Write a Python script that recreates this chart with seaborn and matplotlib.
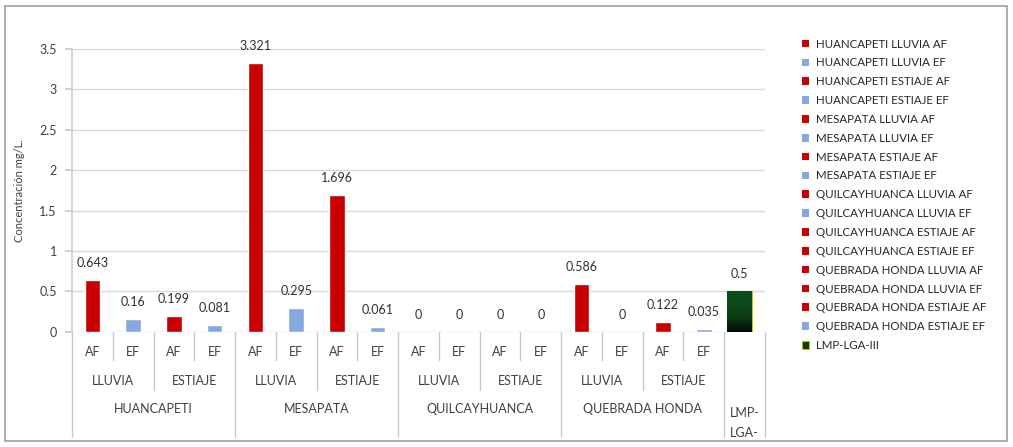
import numpy as np
import pandas as pd
import matplotlib
matplotlib.use("Agg")
import matplotlib.pyplot as plt
import matplotlib.transforms as mtransforms
from matplotlib.patches import Rectangle, Patch
import seaborn as sns

# ---------------- data ----------------
sites = ["HUANCAPETI", "MESAPATA", "QUILCAYHUANCA", "QUEBRADA HONDA"]
seasons = ["LLUVIA", "ESTIAJE"]
fractions = ["AF", "EF"]
values = [0.643, 0.16, 0.199, 0.081,
          3.321, 0.295, 1.696, 0.061,
          0, 0, 0, 0,
          0.586, 0, 0.122, 0.035]
lmp_label = "LMP-LGA-III"
lmp_short = ["LMP-", "LGA-"]
lmp_value = 0.5
yticks = [0, 0.5, 1, 1.5, 2, 2.5, 3, 3.5]
ylabel = "Concentración mg/L."

RED = "#c80000"
BLUE = "#86a8e0"
LMP_COLOR = "#0b3f18"
# legend colour of each series (as shown in the reference legend)
series_colors = [RED, BLUE, RED, BLUE,
                 RED, BLUE, RED, BLUE,
                 RED, BLUE, RED, RED,
                 RED, RED, RED, BLUE]

# ---------------- build table ----------------
series_names, slot_ids, site_col, season_col, frac_col = [], [], [], [], []
k = 0
for s in sites:
    for se in seasons:
        for fr in fractions:
            series_names.append(f"{s} {se} {fr}")
            slot_ids.append(f"s{k:02d}")
            site_col.append(s)
            season_col.append(se)
            frac_col.append(fr)
            k += 1
series_names.append(lmp_label)
slot_ids.append(f"s{k:02d}")
all_values = values + [lmp_value]
all_colors = series_colors + [LMP_COLOR]
df = pd.DataFrame({"slot": slot_ids, "value": all_values, "series": series_names})
palette = dict(zip(series_names, all_colors))

# ---------------- figure ----------------
sns.set_theme(style="white")
plt.rcParams["font.family"] = ["Lato", "DejaVu Sans"]

W, H = 1013, 447
fig = plt.figure(figsize=(W / 100, H / 100), dpi=100)
ax_left, ax_right, y0, y35 = 72, 765, 331.7, 49
ax = fig.add_axes([ax_left / W, (H - y0) / H, (ax_right - ax_left) / W, (y0 - y35) / H])

sns.barplot(data=df, x="slot", y="value", hue="series", palette=palette,
            dodge=False, width=0.38, ax=ax, legend=False, saturation=1,
            order=slot_ids, hue_order=series_names)

ax.set_ylim(0, 3.5)
ax.set_yticks(yticks)
ax.set_yticklabels([f"{t:g}" for t in yticks], fontsize=9, color="#404040")
ax.set_xticks([])
ax.set_xlabel("")
ax.set_ylabel(ylabel, fontsize=8, color="#404040", labelpad=10)
ax.grid(axis="y", color="#d9d9d9", linewidth=1)
ax.set_axisbelow(True)
for sp in ["top", "right", "bottom"]:
    ax.spines[sp].set_visible(False)
ax.spines["left"].set_color("#d0d0d0")
ax.tick_params(axis="y", length=5, color="#c8c8c8", pad=6, left=True)

# value labels & LMP styling
for cont, name, val in zip(ax.containers, series_names, all_values):
    for p in cont.patches:
        if name == lmp_label:
            cx = p.get_x() + p.get_width() / 2
            p.set_width(0.6)
            p.set_x(cx - 0.3 - 0.12)
            grad = np.linspace(0, 1, 64).reshape(-1, 1)
            cmap = matplotlib.colors.LinearSegmentedColormap.from_list(
                "g", ["#050805", "#0a3a16", "#0d4a1c", "#0d4a1c"])
            im = ax.imshow(grad, extent=(p.get_x(), p.get_x() + p.get_width(), 0, p.get_height()),
                           aspect="auto", cmap=cmap, origin="lower", zorder=p.get_zorder() + 0.1)
            im.set_clip_path(p)
            p.set_edgecolor("#c8c000")
            p.set_linewidth(0.8)
        ax.annotate(f"{val:g}", (p.get_x() + p.get_width() / 2, p.get_height()),
                    xytext=(0, 8), textcoords="offset points", ha="center", va="bottom",
                    fontsize=9, color="#303030")
ax.set_xlim(-0.5, len(slot_ids) - 0.5)
ax.set_aspect("auto")

# ---------------- hierarchical category axis ----------------
trans = mtransforms.blended_transform_factory(ax.transData, ax.transAxes)
axis_h = y0 - y35
def yfrac(py):
    return -(py - y0) / axis_h

lv1_bot, lv2_bot, lv3_bot = yfrac(360), yfrac(390), yfrac(437)
line_kw = dict(color="#c8c8c8", linewidth=1, transform=trans, clip_on=False)
n = len(values)
for b in range(n + 2):
    xb = b - 0.5
    if b == 0 or b >= n:
        bot = lv3_bot
    elif b % 4 == 0:
        bot = lv3_bot
    elif b % 2 == 0:
        bot = lv2_bot
    else:
        bot = lv1_bot
    ax.plot([xb, xb], [0, bot], **line_kw)

txt_kw = dict(transform=trans, ha="center", va="center", fontsize=9, color="#404040", clip_on=False)
for i, fr in enumerate(frac_col):
    ax.text(i, yfrac(352), fr, **txt_kw)
for j in range(len(sites) * len(seasons)):
    ax.text(j * 2 + 0.5, yfrac(381), seasons[j % 2], **txt_kw)
for j, s in enumerate(sites):
    ax.text(j * 4 + 1.5, yfrac(409), s, **txt_kw)
ax.text(n, yfrac(413), lmp_short[0], **txt_kw)
ax.text(n, yfrac(433), lmp_short[1], **txt_kw)

# ---------------- legend ----------------
handles = [Patch(facecolor=c, edgecolor="none") for c in all_colors]
handles[-1] = Patch(facecolor=LMP_COLOR, edgecolor="#c8c000", linewidth=0.6)
leg = fig.legend(handles, series_names, loc="upper left",
                 bbox_to_anchor=(797 / W, 1 - 34 / H), frameon=False,
                 fontsize=8.3, handlelength=0.65, handleheight=0.65,
                 handletextpad=0.6, labelspacing=0.68, borderaxespad=0)
for t in leg.get_texts():
    t.set_color("#262626")

# outer frame
fig.patches.append(Rectangle((5 / W, 6 / H), (1007 - 5) / W, (441 - 6) / H,
                             transform=fig.transFigure, fill=False,
                             edgecolor="#a0a0a0", linewidth=1.2))

fig.savefig("out.png", dpi=100)
